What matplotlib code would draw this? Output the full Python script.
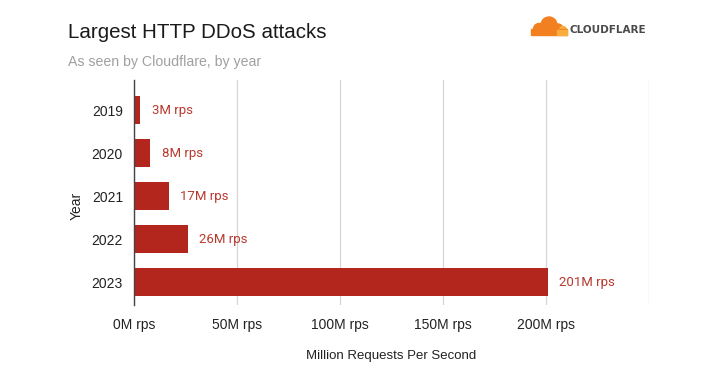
import matplotlib.pyplot as plt
from matplotlib.patches import Ellipse

years = ["2019", "2020", "2021", "2022", "2023"]
rps = [3, 8, 17, 26, 201]
bar_labels = ["3M rps", "8M rps", "17M rps", "26M rps", "201M rps"]
xticks = [0, 50, 100, 150, 200, 250]
xtick_labels = ["0M rps", "50M rps", "100M rps", "150M rps", "200M rps", ""]

bar_color = "#b3261e"
label_color = "#b8392e"

fig = plt.figure(figsize=(7.28, 3.8), dpi=100)
ax = fig.add_axes([134 / 728, 1 - 305 / 380, 515 / 728, 225 / 380])

pos = list(range(len(years)))
ax.barh(pos, rps, height=0.65, color=bar_color, zorder=3)
for p, v, lab in zip(pos, rps, bar_labels):
    ax.text(v + 5.5, p, lab, va="center", ha="left", color=label_color,
            fontsize=9.5, family="Roboto")

ax.set_xlim(0, 250)
ax.set_ylim(4.53, -0.7)
ax.set_yticks(pos)
ax.set_yticklabels(years, fontsize=10, family="Liberation Sans", color="#222222")
ax.set_xticks(xticks)
ax.set_xticklabels(xtick_labels, fontsize=10, family="Liberation Sans", color="#222222")
ax.tick_params(axis="y", length=0, pad=8)
ax.tick_params(axis="x", length=0, pad=9)
ax.grid(axis="x", color="#d6d6d6", linewidth=0.9, zorder=0)
for s in ["top", "right", "bottom"]:
    ax.spines[s].set_visible(False)
ax.spines["left"].set_color("#444444")
ax.spines["left"].set_linewidth(1.0)
ax.spines["left"].set_zorder(4)

ax.set_xlabel("Million Requests Per Second", fontsize=9.5, family="Liberation Sans",
              color="#222222", labelpad=13)
ax.set_ylabel("Year", fontsize=10, family="Liberation Sans", color="#222222")
ax.yaxis.set_label_coords(-0.098, 0.44)

fig.text(68 / 728, 1 - 32 / 380, "Largest HTTP DDoS attacks", fontsize=14.8,
         family="Liberation Sans", color="#1a1a1a", va="center")
fig.text(68 / 728, 1 - 62 / 380, "As seen by Cloudflare, by year", fontsize=10.2,
         family="Liberation Sans", color="#a0a0a0", va="center")

# cloudflare logo
def blob(x, y, r, c):
    fig.patches.append(Ellipse((x / 728, 1 - y / 380), 2 * r / 728, 2 * r / 380,
                               transform=fig.transFigure, color=c, zorder=5))

orange = "#f38020"
light = "#faad3f"
blob(549, 25, 8, orange)
blob(539, 29, 5.5, orange)
blob(558, 29, 5, orange)
blob(563, 30, 3.5, light)
fig.patches.append(plt.Rectangle((531 / 728, 1 - 34.5 / 380), 36 / 728, 5 / 380,
                                 transform=fig.transFigure, color=orange, zorder=5))
fig.patches.append(plt.Rectangle((557 / 728, 1 - 34.5 / 380), 10 / 728, 4 / 380,
                                 transform=fig.transFigure, color=light, zorder=5))
fig.text(570 / 728, 1 - 30 / 380, "CLOUDFLARE", fontsize=7.5, family="DejaVu Sans",
         weight="bold", color="#4a4a4a", va="center")

fig.savefig("out.png", dpi=100, facecolor="white")
